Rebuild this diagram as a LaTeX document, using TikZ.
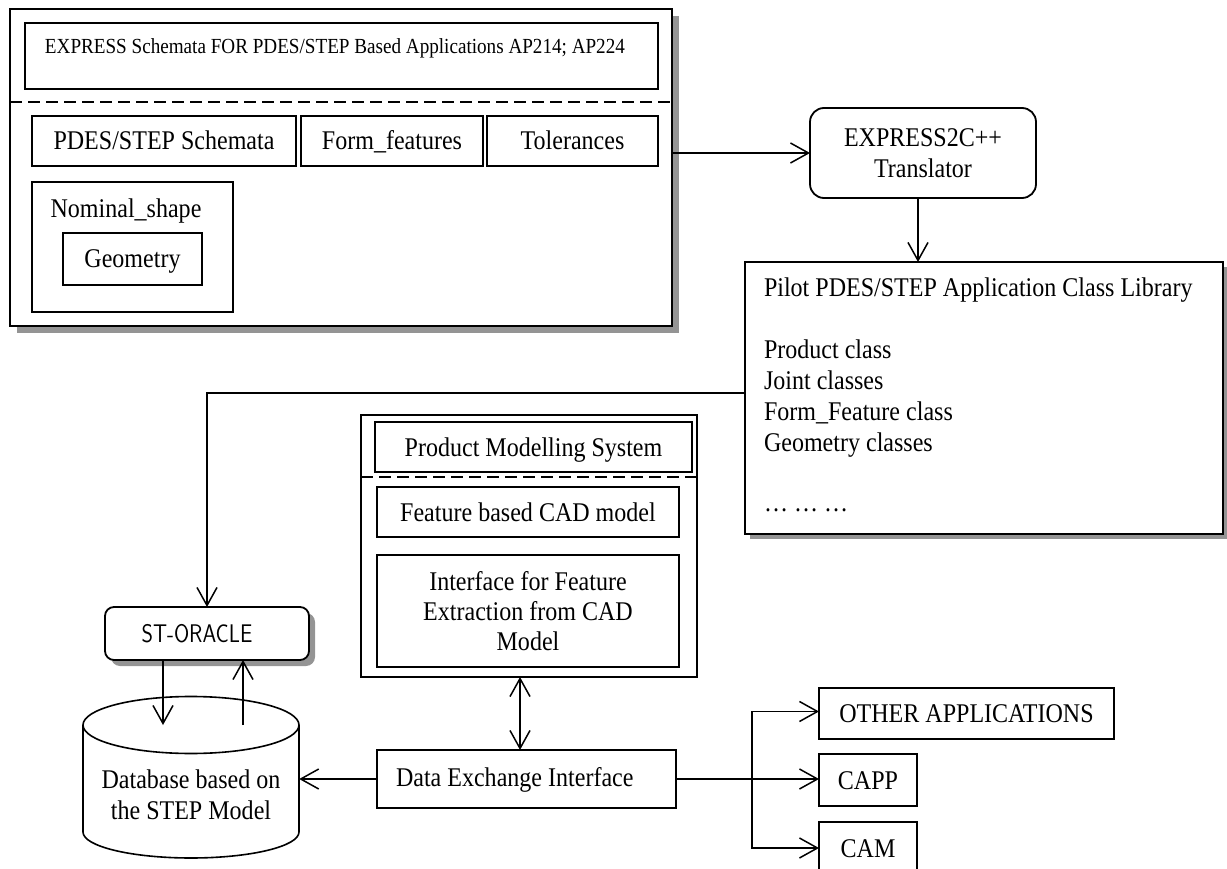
\documentclass[tikz,border=0pt]{standalone}
\usepackage{fontspec}
\setmainfont[FakeStretch=0.89]{Liberation Serif}
\usetikzlibrary{arrows.meta,shadows}
\tikzset{
  bx/.style={draw, line width=1.8pt, fill=white, inner sep=0pt, outer sep=0pt},
  txt/.style={inner sep=0pt, outer sep=0pt, font=\fontsize{27}{31}\selectfont},
  one/.style={text height=18pt, text depth=0pt},
  arr/.style={line width=1.5pt, -{Straight Barb[length=18pt,width=20pt,line width=1.5pt]}},
  darr/.style={line width=1.5pt, {Straight Barb[length=18pt,width=20pt,line width=1.5pt]}-{Straight Barb[length=18pt,width=20pt,line width=1.5pt]}},
  shd/.style={drop shadow={shadow xshift=#1, shadow yshift=-#1, fill=black!42, opacity=1}},
  sepline/.style={line width=1.5pt, dash pattern=on 12pt off 6pt},
}
\begin{document}
\begin{tikzpicture}[x=1pt,y=-1pt]
\clip (0,0) rectangle (1227,869);

% ---------- top schema box ----------
\node[bx, shd=7pt, minimum width=662pt, minimum height=317pt] (top) at (341,167.5) {};
\node[bx, minimum width=633pt, minimum height=66pt] (title) at (341.5,56) {};
\node[txt, anchor=west, text height=14pt, text depth=0pt, font=\fontsize{21.5}{24}\selectfont] (titletxt) at (45,47)
  {EXPRESS Schemata FOR PDES/STEP Based Applications AP214; AP224};
\coordinate (sepL) at (10,102);
\draw[sepline] (sepL) -- (sepL -| top.east);
\node[bx, txt, one, minimum width=264pt, minimum height=50pt] (pdes) at (164,141) {PDES/STEP Schemata};
\node[bx, txt, one, minimum width=182pt, minimum height=50pt] (form) at (392,141) {Form\_features};
\node[bx, txt, one, minimum width=171pt, minimum height=50pt] (tol) at (572.5,141) {Tolerances};
\node[bx, minimum width=201pt, minimum height=130pt] (nom) at (132.5,247) {};
\node[txt, one] (nomtxt) at (126,208.5) {Nominal\_shape};
\node[bx, txt, one, minimum width=139pt, minimum height=52pt] (geo) at (132.5,259) {Geometry};

% ---------- translator ----------
\node[bx, txt, rounded corners=14pt, minimum width=226pt, minimum height=90pt, align=center] (tr) at (923,153)
  {EXPRESS2C++\\Translator};
\draw[arr] (tr.west -| top.east) -- (tr.west);

% ---------- library ----------
\node[bx, shd=5pt, minimum width=478pt, minimum height=272pt] (lib) at (984,398) {};
\node[txt, anchor=base west] (lib1) at (764,297) {Pilot PDES/STEP Application Class Library};
\node[txt, anchor=base west] (lib2) at (764,358) {Product class};
\node[txt, anchor=base west] (lib3) at (764,389) {Joint classes};
\node[txt, anchor=base west] (lib4) at (764,420) {Form\_Feature class};
\node[txt, anchor=base west] (lib5) at (764,451) {Geometry classes};
\node[txt, anchor=base west] (lib6) at (764,511) {… … …};
\draw[arr] ([xshift=-5pt]tr.south) -- ([xshift=-5pt]tr.south |- lib.north);

% ---------- ST-ORACLE ----------
\node[bx, shd=6pt, rounded corners=9pt, minimum width=204pt, minimum height=53pt] (ora) at (207,633.5) {};
\node[inner sep=0pt] (oratxt) at (197,634)
  {\scalebox{0.86}[1]{\fontsize{25.5}{25.5}\sffamily ST-ORACLE}};
\draw[arr] ([yshift=5pt]lib.west) -| (ora.north);

% ---------- database cylinder ----------
\node[minimum width=216pt, minimum height=161pt, inner sep=0pt] (db) at (191,777.5) {};
\coordinate (dbtop) at (191,725);
\draw[line width=1.6pt, fill=white] (83,725) -- (83,832)
  arc[start angle=180, end angle=360, x radius=108pt, y radius=26pt] -- (299,725);
\draw[line width=1.6pt] (dbtop) ellipse[x radius=108pt, y radius=28.5pt];
\node[txt, align=center] (dbtxt) at (191,795) {Database based on\\the STEP Model};
\draw[arr] ([xshift=-44pt]ora.south) -- ([xshift=-28pt]dbtop);
\draw[arr] ([xshift=52pt]dbtop) -- ([xshift=36pt]ora.south);

% ---------- product modelling system ----------
\node[bx, minimum width=336pt, minimum height=262pt] (pms) at (529,546) {};
\node[bx, txt, one, minimum width=317pt, minimum height=50pt] (pmst) at (533.5,447) {Product Modelling System};
\coordinate (sep2) at (361,477);
\draw[sepline] (sep2) -- (sep2 -| pms.east);
\node[bx, txt, one, minimum width=302pt, minimum height=50pt] (feat) at (528,512) {Feature based CAD model};
\node[bx, txt, minimum width=302pt, minimum height=112pt, align=center, font=\fontsize{27}{30}\selectfont] (intf) at (528,611)
  {Interface for Feature\\Extraction from CAD\\Model};

% ---------- data exchange ----------
\node[bx, minimum width=299pt, minimum height=58pt] (dei) at (526.5,779) {};
\node[txt, one, anchor=west] (deitxt) at (396,777) {Data Exchange Interface};
\draw[darr] ([xshift=-9pt]pms.south) -- ([xshift=-9pt]pms.south |- dei.north);
\draw[arr] (dei.west) -- (dei.west -| db.east);

% ---------- applications ----------
\node[bx, txt, one, minimum width=295pt, minimum height=51pt] (other) at (966.5,713.5) {OTHER APPLICATIONS};
\node[bx, txt, one, minimum width=98pt, minimum height=52pt] (capp) at (868,780) {CAPP};
\node[bx, txt, one, minimum width=98pt, minimum height=52pt] (cam) at (868,848) {CAM};
\coordinate (br) at (752,779);
\draw[arr] (dei.east) -- (dei.east -| capp.west);
\draw[arr] (br) |- ([yshift=2pt]other.west);
\draw[arr] (br) |- (cam.west);
\end{tikzpicture}
\end{document}
